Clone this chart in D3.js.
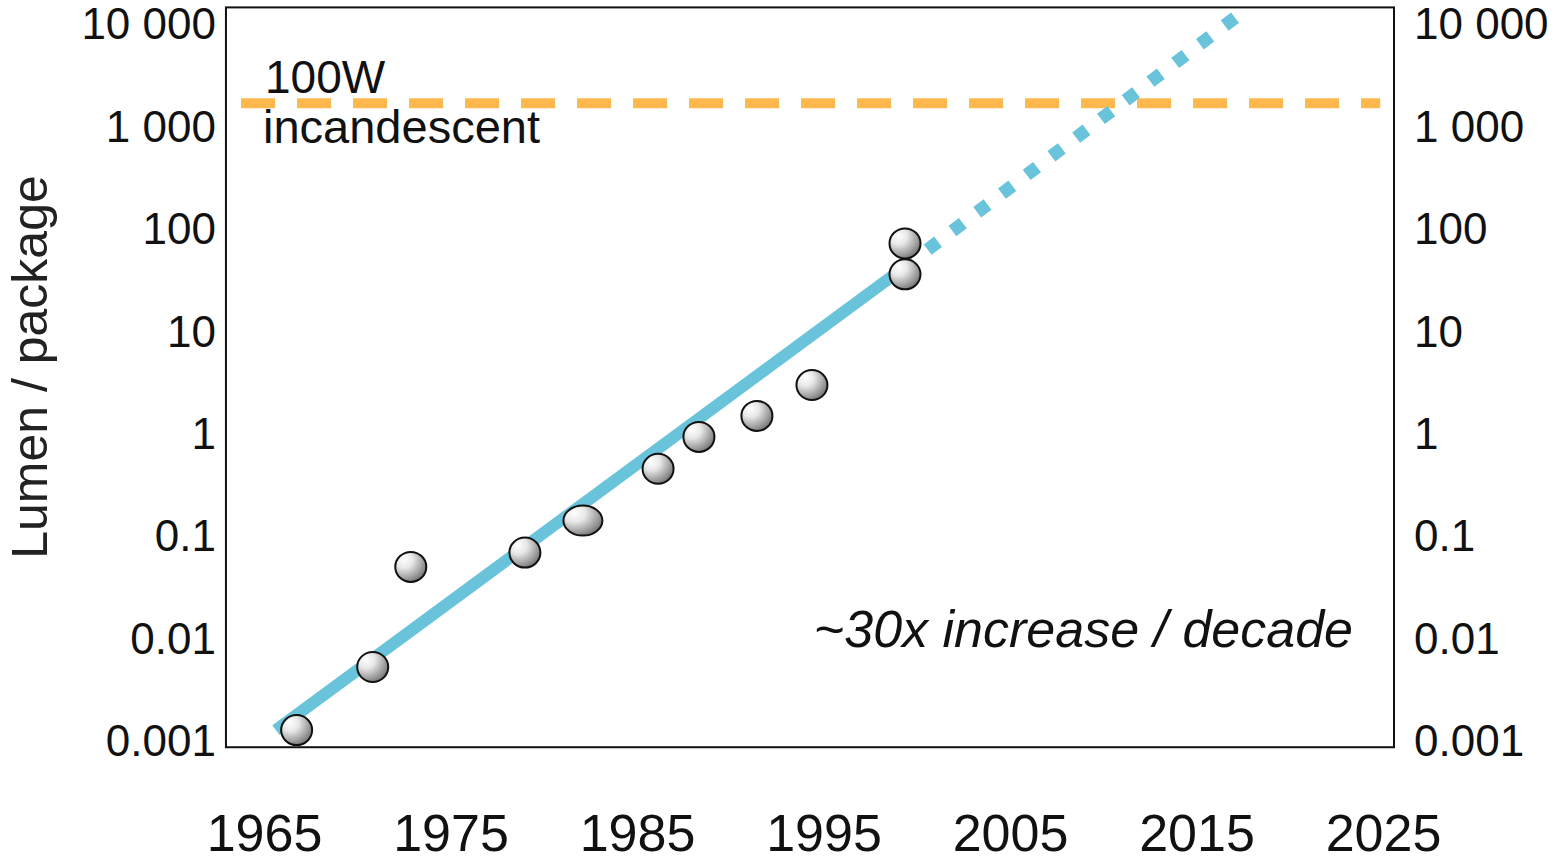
<!DOCTYPE html>
<html>
<head>
<meta charset="utf-8">
<script src="https://cdn.jsdelivr.net/npm/d3@7/dist/d3.min.js"></script>
<style>
  html, body { margin: 0; padding: 0; background: #ffffff; }
  svg { display: block; font-family: "Liberation Sans", Arial, Helvetica, sans-serif; }
</style>
</head>
<body>
<svg id="chart" width="1557" height="861"></svg>
<script>
// ---- data ----
const pointYears  = [1966.75, 1970.83, 1972.87, 1978.99, 1982.10, 1986.13, 1988.32, 1991.43, 1994.38, 1999.37, 1999.37];
const pointLumens = [0.00125, 0.00516, 0.049, 0.0676, 0.1386, 0.4446, 0.910, 1.459, 2.92, 70.5, 35.2];

const trendYears   = [1965.64, 1999.26];
const trendLumens  = [0.00125, 40.3];
const projYears    = [1999.26, 2017.33];
const projLumens   = [40.3, 12240];

const incandescentYears = [1963.77, 2024.85];
const incandescentLumen = 1650;

const yTickValues = [0.001, 0.01, 0.1, 1, 10, 100, 1000, 10000];
const yTickLabels = ["0.001", "0.01", "0.1", "1", "10", "100", "1 000", "10 000"];
const xTickValues = [1965, 1975, 1985, 1995, 2005, 2015, 2025];
const xTickLabels = ["1965", "1975", "1985", "1995", "2005", "2015", "2025"];
const frameYears  = [1962.96, 2025.59];
const frameLumens = [0.00085, 14200];

// ---- scales ----
const svg = d3.select("#chart");
const x = d3.scaleLinear().domain([1965, 2025]).range([264, 1383]);
const y = d3.scaleLog().domain([0.001, 10000]).range([740, 23]);

const blue = "#69C3DA";
const orange = "#FDB94E";

// gradient for spheres
const defs = svg.append("defs");
const grad = defs.append("radialGradient").attr("id", "sphere")
  .attr("cx", "30%").attr("cy", "28%").attr("r", "80%").attr("fx", "28%").attr("fy", "25%");
grad.append("stop").attr("offset", "0%").attr("stop-color", "#ffffff");
grad.append("stop").attr("offset", "35%").attr("stop-color", "#e8e8e8");
grad.append("stop").attr("offset", "75%").attr("stop-color", "#a0a0a0");
grad.append("stop").attr("offset", "100%").attr("stop-color", "#707070");

// frame
const fx0 = x(frameYears[0]), fx1 = x(frameYears[1]);
const fy0 = y(frameLumens[1]), fy1 = y(frameLumens[0]);
svg.append("rect")
  .attr("x", fx0).attr("y", fy0)
  .attr("width", fx1 - fx0).attr("height", fy1 - fy0)
  .attr("fill", "none").attr("stroke", "#111").attr("stroke-width", 2);

// incandescent line
const line = d3.line().x(d => x(d[0])).y(d => y(d[1]));
svg.append("path")
  .datum(incandescentYears.map(yr => [yr, incandescentLumen]))
  .attr("d", line)
  .attr("fill", "none").attr("stroke", orange).attr("stroke-width", 10)
  .attr("stroke-dasharray", "34 22");

// trend (solid)
svg.append("path")
  .datum(trendYears.map((yr, i) => [yr, trendLumens[i]]))
  .attr("d", line)
  .attr("fill", "none").attr("stroke", blue).attr("stroke-width", 12);

// projection (dotted)
svg.append("path")
  .datum(projYears.map((yr, i) => [yr, projLumens[i]]))
  .attr("d", line)
  .attr("fill", "none").attr("stroke", blue).attr("stroke-width", 13)
  .attr("stroke-dasharray", "13 18");

// points
svg.append("g").selectAll("ellipse")
  .data(pointYears.map((yr, i) => ({ yr, v: pointLumens[i], i })))
  .join("ellipse")
  .attr("cx", d => x(d.yr)).attr("cy", d => y(d.v))
  .attr("rx", d => d.i === 4 ? 19.5 : 15.5).attr("ry", 15)
  .attr("fill", "url(#sphere)")
  .attr("stroke", "#111").attr("stroke-width", 2);

// axes
const yAxisL = d3.axisLeft(y).tickValues(yTickValues)
  .tickFormat((d, i) => yTickLabels[i]).tickSize(0).tickPadding(10);
const gl = svg.append("g").attr("transform", `translate(${fx0},0)`).call(yAxisL);
const yAxisR = d3.axisRight(y).tickValues(yTickValues)
  .tickFormat((d, i) => yTickLabels[i]).tickSize(0).tickPadding(20);
const gr = svg.append("g").attr("transform", `translate(${fx1},0)`).call(yAxisR);
const xAxis = d3.axisBottom(x).tickValues(xTickValues)
  .tickFormat((d, i) => xTickLabels[i]).tickSize(0).tickPadding(67);
const gb = svg.append("g").attr("transform", `translate(0,${fy1})`).call(xAxis);

[gl, gr, gb].forEach(g => {
  g.select(".domain").remove();
  g.attr("font-family", null).attr("font-size", null);
});
[gl, gr].forEach(g => g.selectAll("text")
  .attr("font-size", 44).attr("fill", "#111").attr("dy", "0.36em"));
gb.selectAll("text").attr("font-size", 52).attr("fill", "#111");

// y-axis title
svg.append("text")
  .attr("transform", "translate(47,367) rotate(-90)")
  .attr("text-anchor", "middle")
  .attr("font-size", 50).attr("fill", "#222")
  .text("Lumen / package");

// annotations
svg.append("text").attr("x", 265).attr("y", 93)
  .attr("font-size", 46).attr("fill", "#111").text("100W");
svg.append("text").attr("x", 263).attr("y", 143)
  .attr("font-size", 47).attr("fill", "#111").text("incandescent");
svg.append("text").attr("x", 1353).attr("y", 647)
  .attr("text-anchor", "end").attr("font-style", "italic")
  .attr("font-size", 52).attr("fill", "#111").text("~30x increase / decade");
</script>
</body>
</html>
